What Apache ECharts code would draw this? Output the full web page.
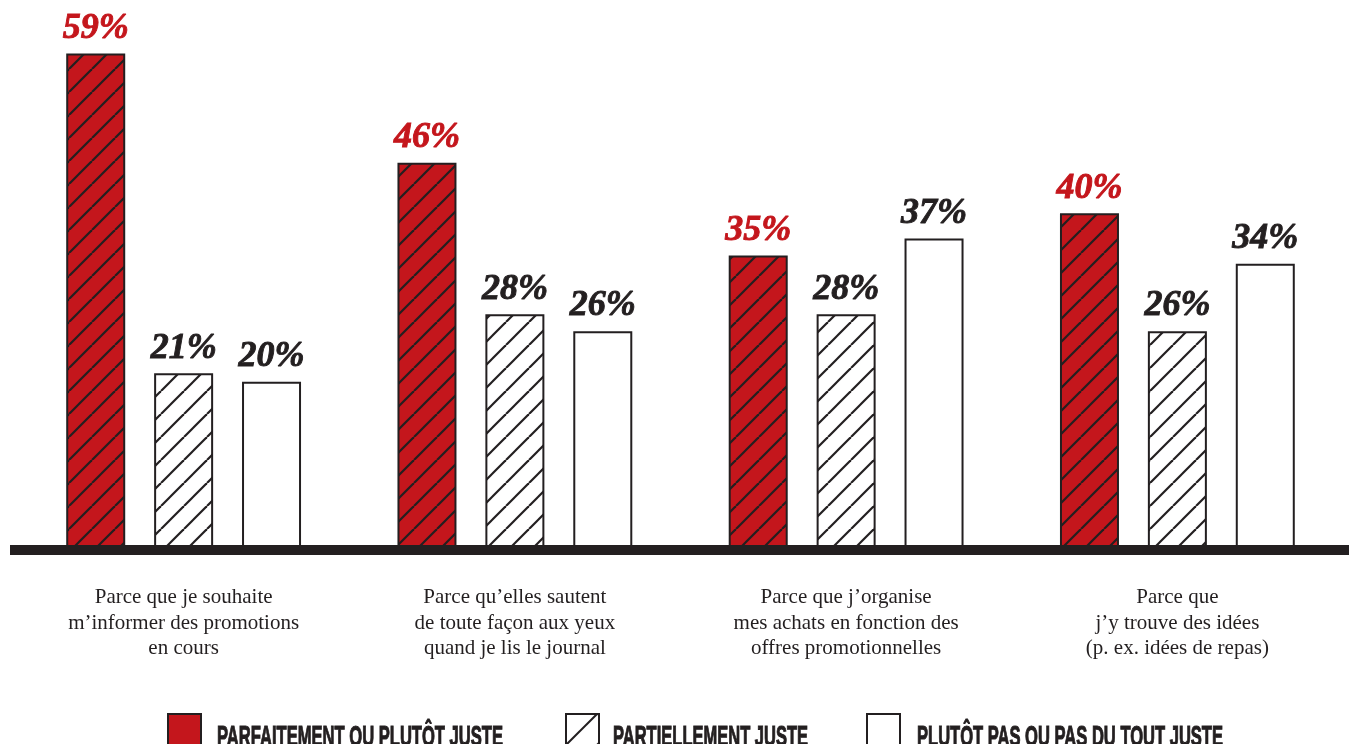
<!DOCTYPE html>
<html>
<head>
<meta charset="utf-8">
<script src="https://cdn.jsdelivr.net/npm/echarts@6/dist/echarts.min.js"></script>
<style>
  html, body { margin: 0; padding: 0; background: #ffffff; }
  #chart { width: 1349px; height: 744px; }
</style>
</head>
<body>
<div id="chart"></div>
<script>
// Reasons for reading promotional leaflets
const categories = [
  'Parce que je souhaite\nm\u2019informer des promotions\nen cours',
  'Parce qu\u2019elles sautent\nde toute façon aux yeux\nquand je lis le journal',
  'Parce que j\u2019organise\nmes achats en fonction des\noffres promotionnelles',
  'Parce que\nj\u2019y trouve des idées\n(p. ex. idées de repas)'
];
const seriesNames = [
  'PARFAITEMENT OU PLUTÔT JUSTE',
  'PARTIELLEMENT JUSTE',
  'PLUTÔT PAS OU PAS DU TOUT JUSTE'
];
const fullyTrue = [59, 46, 35, 40];
const partlyTrue = [21, 28, 28, 26];
const notTrue = [20, 26, 37, 34];

const RED = '#c4161c';
const INK = '#231f20';

// Diagonal "/" hatching tile
function hatch(bg, size, lw) {
  const c = document.createElement('canvas');
  c.width = size; c.height = size;
  const g = c.getContext('2d');
  g.fillStyle = bg;
  g.fillRect(0, 0, size, size);
  g.strokeStyle = INK;
  g.lineWidth = lw;
  for (const k of [-size, 0, size]) {
    g.beginPath();
    g.moveTo(k, size);
    g.lineTo(k + size, 0);
    g.stroke();
  }
  return c;
}

const redHatch = { image: hatch(RED, 23, 2.2), repeat: 'repeat' };
const whiteHatch = { image: hatch('#ffffff', 23, 2.2), repeat: 'repeat' };
const legendHatch = { image: hatch('#ffffff', 31, 2), repeat: 'repeat' };

function bar(name, data, fill, labelColor) {
  return {
    name: name,
    type: 'bar',
    data: data,
    barWidth: 59,
    barGap: '49%',
    itemStyle: { color: fill, borderColor: INK, borderWidth: 2 },
    label: {
      show: true,
      position: 'top',
      distance: 7,
      color: labelColor,
      textBorderColor: labelColor,
      textBorderWidth: 0.9,
      fontFamily: '"Liberation Serif", serif',
      fontStyle: 'italic',
      fontWeight: 'bold',
      fontSize: 36,
      formatter: '{c}%'
    }
  };
}

// Legend swatches; their captions are set in a condensed display style below
function legend(left, entry) {
  return {
    left: left,
    top: 713,
    padding: 0,
    itemWidth: 33,
    itemHeight: 33,
    icon: 'rect',
    selectedMode: false,
    formatter: function () { return ''; },
    data: [entry]
  };
}

const captionFont = 'bold 30px "Liberation Sans", Arial, sans-serif';
const measureCtx = document.createElement('canvas').getContext('2d');
measureCtx.font = captionFont;
function caption(text, left, width) {
  const natural = measureCtx.measureText(text).width;
  return {
    type: 'text',
    x: left,
    y: 738,
    scaleX: width / natural,
    z: 10,
    style: {
      text: text,
      font: captionFont,
      fill: INK,
      stroke: INK,
      lineWidth: 1.1,
      verticalAlign: 'middle'
    }
  };
}

const chart = echarts.init(document.getElementById('chart'), null, { renderer: 'canvas' });
chart.setOption({
  animation: false,
  backgroundColor: '#ffffff',
  grid: { left: 18, right: 6, top: 45, bottom: 194 },
  xAxis: {
    type: 'category',
    data: categories,
    z: 5,
    axisTick: { show: false },
    axisLine: { lineStyle: { color: INK, width: 10 } },
    axisLabel: {
      margin: 35,
      color: INK,
      fontFamily: '"Liberation Serif", serif',
      fontSize: 21,
      lineHeight: 25.5,
      align: 'center'
    }
  },
  yAxis: {
    type: 'value',
    min: 0,
    max: 60,
    show: false,
    splitLine: { show: false }
  },
  legend: [
    legend(167, { name: seriesNames[0], itemStyle: { color: RED, borderColor: INK, borderWidth: 2 } }),
    legend(565, { name: seriesNames[1], itemStyle: { color: legendHatch, borderColor: INK, borderWidth: 2 } }),
    legend(866, { name: seriesNames[2], itemStyle: { color: '#ffffff', borderColor: INK, borderWidth: 2 } })
  ],
  graphic: [
    {
      type: 'rect',
      z: 10,
      shape: { x: 10, y: 545, width: 1339, height: 10 },
      style: { fill: INK }
    },
    caption(seriesNames[0], 217, 286),
    caption(seriesNames[1], 613, 195),
    caption(seriesNames[2], 917, 306)
  ],
  series: [
    bar(seriesNames[0], fullyTrue, redHatch, RED),
    bar(seriesNames[1], partlyTrue, whiteHatch, INK),
    bar(seriesNames[2], notTrue, '#ffffff', INK)
  ]
});
</script>
</body>
</html>
